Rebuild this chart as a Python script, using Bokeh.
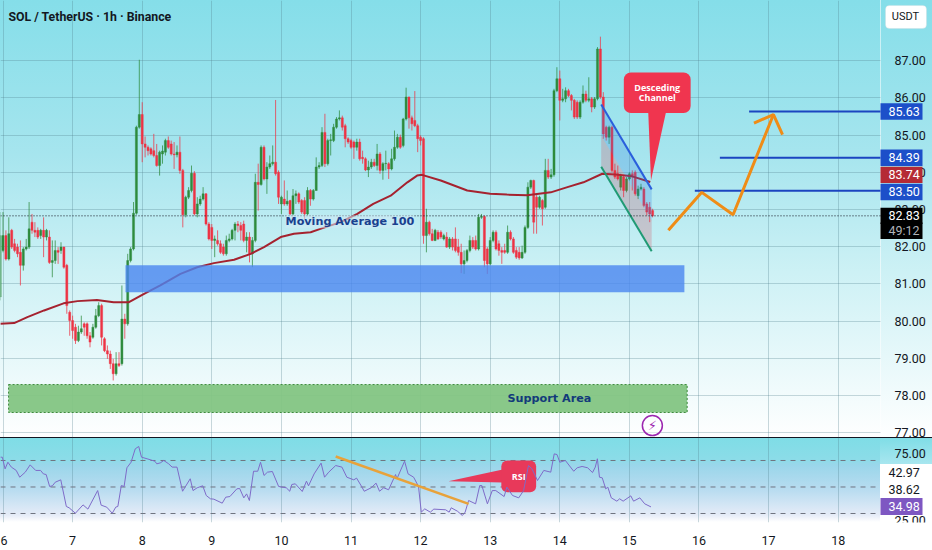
from bokeh.plotting import figure
from bokeh.layouts import column
from bokeh.models import Range1d, FixedTicker, Label, NumeralTickFormatter, BoxAnnotation, LinearAxis
from bokeh.core.properties import value
from bokeh.embed import file_html
from bokeh.resources import INLINE

opens = [80.65,81.90,82.30,81.67,82.44,82.08,81.99,81.85,81.50,81.94,81.99,82.66,82.44,82.44,82.30,82.44,82.26,82.26,81.58,81.63,81.90,81.90,81.99,81.50,
80.24,80.02,79.84,79.48,79.71,79.93,79.93,79.61,79.57,79.84,80.15,80.42,79.53,79.21,79.12,78.86,78.59,78.86,78.86,80.06,79.93,81.63,81.94,82.90,
85.21,85.55,84.76,84.67,84.63,84.58,84.45,84.18,84.49,84.54,84.85,84.76,84.49,84.47,84.54,84.05,82.86,83.33,83.51,83.97,82.88,83.15,83.28,83.42,
82.61,82.52,82.17,82.17,82.08,81.99,81.81,82.17,82.21,82.44,82.61,82.57,82.61,82.17,82.26,81.81,82.17,83.73,83.67,84.67,83.82,84.14,84.23,84.27,
84.00,83.15,83.28,83.15,83.24,82.88,83.37,83.42,83.24,83.24,82.88,83.51,83.28,83.51,84.14,84.18,85.07,84.23,84.85,84.85,85.21,85.43,85.46,85.25,
84.90,84.85,84.81,84.67,84.81,84.40,84.36,84.06,84.14,84.27,84.18,84.49,84.05,84.23,84.23,84.09,84.36,84.67,84.94,84.72,85.43,86.02,85.46,85.39,
85.25,84.94,84.90,82.30,82.66,82.35,82.17,82.39,82.39,82.21,82.26,81.99,82.21,82.21,81.99,81.85,81.54,81.63,81.90,82.17,82.17,81.94,82.79,82.81,
81.94,81.54,82.17,82.39,82.08,81.90,81.90,81.85,82.39,82.21,81.90,81.85,81.70,81.85,82.52,83.60,83.78,83.33,83.06,83.24,83.06,84.05,83.87,83.93,
86.19,86.51,85.93,85.97,86.19,86.06,85.93,85.88,85.48,85.88,86.10,85.93,85.97,85.75,85.97,
87.31,86.02,85.21,84.94,85.21,84.05,83.96,83.60,83.87,83.51,83.82,83.96,84.00,83.37,83.55,83.55,83.15,83.06,82.97]
closes = [82.30,82.30,81.67,82.35,81.99,81.90,81.81,81.50,81.94,81.99,82.48,82.44,82.39,82.26,82.44,82.26,82.44,81.58,81.63,81.90,81.85,81.99,81.45,80.42,
80.02,79.75,79.48,79.71,79.80,79.84,79.61,79.44,79.84,80.15,80.42,79.57,79.21,79.12,78.86,78.59,78.86,78.81,80.06,79.93,81.63,81.94,82.90,85.21,
85.55,84.76,84.67,84.58,84.49,84.45,84.18,84.54,84.57,84.85,84.67,84.49,84.47,84.54,84.05,82.86,83.33,83.51,83.97,82.88,83.15,83.28,83.42,82.61,
82.21,82.17,82.21,82.08,81.85,81.81,82.17,82.21,82.44,82.61,82.57,82.44,82.17,82.26,81.81,82.17,83.73,83.67,84.67,83.82,84.14,84.23,84.27,83.96,
83.33,83.33,83.15,83.22,82.88,83.37,83.42,83.20,82.93,82.88,83.51,83.28,83.51,84.14,84.18,85.07,84.23,84.85,84.87,85.21,85.43,85.46,85.21,84.90,
84.81,84.67,84.67,84.81,84.36,84.36,84.06,84.14,84.27,84.18,84.49,84.05,84.23,84.24,84.09,84.36,84.67,84.94,84.67,85.43,86.02,85.46,85.30,85.25,
84.90,84.85,82.30,82.66,82.35,82.17,82.44,82.21,82.26,82.30,81.99,82.21,81.99,81.90,81.85,81.54,81.63,81.90,82.17,81.99,81.94,82.79,82.81,81.63,
81.54,82.17,82.39,81.94,81.90,81.85,81.85,82.39,82.21,81.85,81.72,81.70,81.85,82.52,83.60,83.78,82.66,83.06,83.33,83.02,84.05,83.87,83.93,86.19,
86.51,85.93,85.97,86.19,86.06,85.93,85.48,85.48,85.88,86.10,85.93,85.97,85.75,85.97,87.31,
86.02,85.03,84.94,85.21,84.05,83.87,83.82,83.91,83.51,83.82,83.96,83.87,83.42,83.55,83.60,83.11,82.93,82.88,82.83]
highs = [82.93,82.93,82.44,82.79,82.48,82.21,82.08,82.17,81.99,82.21,83.20,82.88,82.66,82.52,82.48,82.79,82.48,82.44,82.17,82.17,81.99,82.12,82.00,81.54,
80.29,80.15,79.93,79.88,80.15,79.97,79.97,79.71,79.93,80.33,80.51,80.47,79.57,79.35,79.21,78.99,79.17,79.17,80.96,80.20,81.81,81.99,83.20,85.25,
87.02,85.88,84.96,84.72,84.67,85.03,84.76,84.58,84.72,84.90,84.96,84.85,84.81,84.72,84.96,84.09,83.37,83.60,84.18,84.03,83.33,83.37,83.60,83.44,
82.66,82.61,82.30,82.44,82.17,82.08,82.30,82.35,82.48,82.66,82.69,82.66,82.70,82.39,82.39,82.26,83.96,84.23,84.72,84.72,84.27,84.45,84.72,85.94,
84.05,83.37,83.78,83.51,83.26,83.55,83.51,83.46,83.28,83.33,83.60,83.55,83.55,84.40,84.27,85.21,85.57,84.90,85.03,85.30,85.48,85.66,85.52,85.30,
84.94,84.90,84.85,84.90,84.90,84.58,84.40,84.31,84.36,84.36,84.76,84.54,84.27,84.58,84.27,84.63,85.12,85.03,85.01,85.46,86.27,86.03,85.52,86.18,
85.30,84.99,84.94,83.02,82.70,82.48,82.48,82.45,82.44,82.35,82.39,82.26,82.26,82.52,82.21,82.08,81.90,81.94,82.30,82.26,82.30,82.88,82.88,82.84,
81.99,82.26,82.44,82.44,82.17,81.99,82.08,82.57,82.44,82.26,81.99,81.99,82.03,82.57,83.73,83.80,83.80,83.42,83.37,83.28,84.36,84.36,84.09,86.24,
86.82,86.73,86.24,86.28,86.24,86.10,85.97,85.93,85.93,86.33,86.19,86.55,86.02,86.02,87.36,
87.64,86.15,85.25,85.25,85.25,84.23,84.18,83.96,83.91,83.87,84.00,84.05,84.05,83.64,83.69,83.60,83.20,83.20,83.02]
lows = [80.56,81.85,81.63,81.63,81.94,81.85,81.72,80.96,81.36,81.90,81.94,82.35,82.26,82.21,82.21,81.72,82.17,81.54,81.18,81.54,81.54,81.81,81.41,80.20,
79.61,79.53,79.39,79.44,79.66,79.61,79.53,79.30,79.53,79.80,80.11,79.35,79.17,78.99,78.72,78.41,78.54,78.77,78.81,79.53,79.88,81.58,81.90,82.86,
85.17,84.27,84.40,84.45,84.45,84.40,84.15,83.91,84.23,84.45,84.63,84.45,84.09,84.40,83.96,82.52,82.79,83.28,83.46,82.84,82.79,83.10,83.24,82.57,
82.17,81.94,81.72,82.03,81.81,81.76,81.76,82.12,82.17,82.17,82.39,82.17,82.12,81.85,81.58,81.45,82.12,82.97,83.64,83.78,83.42,84.09,84.18,83.91,
83.15,82.88,83.10,83.10,82.84,82.84,83.15,83.15,82.88,82.75,82.84,83.10,83.24,83.51,84.09,84.14,84.14,84.18,84.45,84.81,85.17,85.39,85.12,84.67,
84.76,84.63,84.36,84.58,84.31,84.23,84.03,83.87,84.09,84.14,84.05,83.96,83.80,84.05,83.82,84.05,84.31,84.63,84.63,84.67,85.39,85.17,85.12,85.21,
84.54,84.72,82.08,81.85,82.30,82.15,82.15,82.18,82.21,82.17,81.97,81.94,81.90,81.85,81.76,81.29,81.27,81.58,81.85,81.94,81.90,81.90,82.75,81.45,
81.27,81.50,82.12,81.90,81.76,81.54,81.81,81.81,82.17,81.81,81.67,81.65,81.67,81.81,82.48,83.55,82.35,82.35,83.02,82.57,83.02,83.82,83.82,83.88,
86.15,85.39,85.88,85.88,86.02,85.66,85.43,85.43,85.43,85.84,85.88,85.88,85.61,85.70,85.93,
85.97,84.90,84.85,84.76,84.00,83.82,83.78,83.51,83.33,83.46,83.78,83.51,83.37,83.28,83.51,83.06,82.84,82.66,82.79]

ma_days = [5.96,6.16,6.35,6.59,6.87,7.07,7.35,7.59,7.81,8.02,8.26,8.55,8.79,9.03,9.32,9.56,9.75,9.99,10.18,10.42,10.56,10.85,11.09,11.32,11.57,11.81,11.95,12.02,12.29,12.67,13.0,13.24,13.53,13.87,14.11,14.34,14.61,14.80,15.04,15.30]
ma_values = [79.93,79.95,80.11,80.29,80.48,80.54,80.57,80.51,80.51,80.73,80.96,81.27,81.45,81.56,81.65,81.81,81.99,82.26,82.35,82.39,82.48,82.66,82.88,83.15,83.37,83.73,83.91,83.93,83.78,83.51,83.42,83.40,83.38,83.46,83.60,83.73,83.96,83.94,83.89,83.74]

rsi_days = [5.96,5.99,6.03,6.07,6.12,6.19,6.24,6.32,6.39,6.47,6.54,6.58,6.62,6.67,6.71,6.75,6.83,6.91,6.95,7.04,7.15,7.22,7.36,7.41,7.49,7.57,7.62,7.65,7.70,7.74,7.78,7.84,7.90,7.95,7.99,8.07,8.18,8.21,8.26,8.31,8.38,8.43,8.50,8.58,8.69,8.73,8.79,8.87,8.92,8.98,9.03,9.15,9.20,9.26,9.36,9.40,9.46,9.50,9.54,9.60,9.66,9.70,9.75,9.80,9.87,9.96,10.07,10.12,10.15,10.20,10.30,10.36,10.39,10.47,10.57,10.62,10.68,10.78,10.87,10.94,11.04,11.08,11.15,11.19,11.29,11.36,11.41,11.47,11.54,11.64,11.66,11.77,11.82,11.90,11.97,12.01,12.06,12.14,12.19,12.36,12.41,12.44,12.53,12.60,12.64,12.69,12.79,12.85,12.88,12.96,13.03,13.08,13.20,13.24,13.32,13.41,13.48,13.55,13.60,13.68,13.77,13.87,13.92,13.96,14.00,14.08,14.20,14.25,14.32,14.40,14.47,14.51,14.54,14.57,14.61,14.66,14.69,14.74,14.82,14.86,14.91,15.02,15.06,15.15,15.22,15.31]
rsi_values = [72.5,72.5,63.7,68.7,65.0,62.5,57.4,61.2,66.7,62.5,62.5,59.9,59.4,50.4,50.9,53.6,55.4,35.3,34.3,30.2,36.5,33.3,47.3,36.3,34.8,30.2,34.8,35.3,51.1,50.4,64.5,68.7,78.8,80.6,72.5,71.3,69.5,67.5,68.2,70.0,67.5,65.0,65.0,46.8,56.2,47.3,49.4,50.9,43.6,41.1,40.8,37.8,42.3,42.8,48.6,48.9,41.8,44.8,39.8,61.9,61.9,68.7,58.7,61.2,61.7,50.4,49.4,46.8,51.9,52.4,46.6,54.4,50.9,59.9,68.0,57.4,61.2,66.2,65.0,57.4,55.4,56.7,50.6,46.8,49.4,52.9,46.8,49.4,47.9,59.4,56.2,69.5,59.9,57.4,50.4,31.0,33.5,31.0,33.3,32.8,31.0,34.3,31.7,28.5,31.0,39.8,37.3,51.1,51.1,37.3,47.3,47.3,42.8,49.9,43.6,41.8,47.3,66.2,63.7,54.9,62.5,61.2,75.0,74.5,68.7,70.0,61.9,64.5,65.5,64.5,60.9,65.0,71.3,57.4,56.9,48.6,49.9,41.8,39.3,41.1,39.3,43.3,39.3,41.8,37.3,34.98]

price_ticks = [77, 78, 79, 80, 81, 82, 83, 84, 85, 86, 87]
day_ticks = [6, 7, 8, 9, 10, 11, 12, 13, 14, 15, 16, 17, 18]
rsi_ticks = [25, 75]
rsi_levels = [70, 50, 30]
level_prices = [85.63, 84.39, 83.50]
level_starts = [16.72, 16.30, 15.94]
last_price = 82.83
ma_last = "83.74"
countdown = "49:12"
rsi_side = ["42.97", "38.62", "34.98"]

arrow_days = [15.56, 16.04, 16.49, 17.07]
arrow_prices = [82.44, 83.46, 82.86, 85.55]
head_days = [16.79, 17.07, 17.20]
head_prices = [85.32, 85.55, 85.01]
channel_days = [14.595, 15.32]
channel_top = [85.82, 83.54]
channel_mid = [84.985, 82.71]
channel_bottom = [84.15, 81.88]

assert len(opens) == len(closes) == len(highs) == len(lows), (len(opens), len(closes), len(highs), len(lows))
assert len(ma_days) == len(ma_values) and len(rsi_days) == len(rsi_values), (len(rsi_days), len(rsi_values))

X0, X_PANE, X1 = 5.964, 18.608, 19.355
FONT = "Roboto"
RED, GREEN = "#ee3344", "#2e8b3d"
INK = "#131722"
GRID = "#4f7f8c"

days = [5 + 23 / 24 + i / 24 for i in range(len(closes))]
up = [c >= o for o, c in zip(opens, closes)]
colors = [GREEN if u else RED for u in up]
body_top = [max(o, c) for o, c in zip(opens, closes)]
body_bot = [min(o, c) for o, c in zip(opens, closes)]


def style_side_axis(axis, ticks):
    axis.ticker = FixedTicker(ticks=ticks)
    axis.formatter = NumeralTickFormatter(format="0.00")
    axis.major_tick_line_color = None
    axis.minor_tick_line_color = None
    axis.axis_line_color = None
    axis.major_label_standoff = 8
    axis.major_label_text_font = FONT
    axis.major_label_text_font_size = "12.5px"
    axis.major_label_text_color = INK


main = figure(width=932, height=439, output_backend="svg", toolbar_location=None,
              x_range=Range1d(X0, X1), y_range=Range1d(76.825, 88.611),
              y_axis_location=None, x_axis_location=None,
              min_border_left=0, min_border_top=0, min_border_bottom=0, min_border_right=0,
              background_fill_alpha=0, border_fill_alpha=0, outline_line_color=None)
main.styles = {"background": "linear-gradient(rgba(255,255,255,.55),rgba(255,255,255,.55)) no-repeat 880px 0/1px 100%, linear-gradient(#85dee9 0%, #a6e5ee 35%, #cdf1f5 62%, #ffffff 100%)"}

ya = LinearAxis(fixed_location=X_PANE)
style_side_axis(ya, price_ticks)
main.add_layout(ya, "right")

main.xgrid.ticker = FixedTicker(ticks=day_ticks)
main.ygrid.ticker = FixedTicker(ticks=price_ticks)
main.ygrid[0].cross_bounds = (X0, X_PANE)
for g in (main.xgrid[0], main.ygrid[0]):
    g.grid_line_color = GRID
    g.grid_line_alpha = 0.3

main.segment(days, highs, days, lows, line_color=colors, line_width=1, line_alpha=0.75)
main.vbar(x=days, top=body_top, bottom=body_bot, width=0.03, fill_color=colors, line_color=colors, line_width=0.4)
main.line(ma_days, ma_values, line_color="#a5222f", line_width=2)

main.quad(left=[7.76], right=[15.79], top=[81.50], bottom=[80.78], fill_color="#4a86f0", fill_alpha=0.8, line_color=None)
main.quad(left=[6.08], right=[15.83], top=[78.30], bottom=[77.55], fill_color="#83c583", fill_alpha=0.95,
          line_color="#3c8a3c", line_dash="2 2", line_width=1)

main.varea(channel_days, channel_mid, channel_top, fill_color="#2f7fe0", fill_alpha=0.25)
main.varea(channel_days, channel_bottom, channel_mid, fill_color="#d8384a", fill_alpha=0.22)
main.line(channel_days, channel_top, line_color="#2a5fdc", line_width=2)
main.line(channel_days, channel_bottom, line_color="#1f9a74", line_width=2)

main.segment(level_starts, level_prices, [X_PANE] * 3, level_prices, line_color="#1b45c0", line_width=2)
main.segment([X0], [last_price], [X_PANE], [last_price], line_color=INK, line_dash="1 2", line_width=1)
main.line(arrow_days, arrow_prices, line_color="#ef8c16", line_width=3)
main.line(head_days, head_prices, line_color="#ef8c16", line_width=3)

CALLOUT = "#f0354f"
main.patch([15.27, 15.53, 15.31], [85.65, 85.65, 83.78], fill_color=CALLOUT, line_color=None)
main.quad(left=[14.92], right=[15.88], top=[86.68], bottom=[85.59], fill_color=CALLOUT, line_color=None, border_radius=7)
main.text([15.40, 15.40], [86.28, 86.01], text=["Desceding", "Channel"], text_color="#ffffff",
          text_font=value("Open Sans"), text_font_style="bold", text_font_size="9px",
          text_align="center", text_baseline="middle")

main.scatter([15.33], [77.2], marker="circle", size=20, fill_color="#ffffff", fill_alpha=0.5,
             line_color="#9c27b0", line_width=1.5)
main.text([15.33], [77.2], text=["⚡"], text_color="#9c27b0", text_font=value("DejaVu Sans"),
          text_font_size="13px", text_align="center", text_baseline="middle")


def tag(pane, text, y, bg=None, fg="#ffffff", half=0.22):
    pane.add_layout(BoxAnnotation(left=880, right=922, left_units="screen", right_units="screen",
                                  top=y + half, bottom=y - half, fill_color=bg, fill_alpha=1, line_color=None,
                                  level="annotation"))
    pane.add_layout(Label(x=888, y=y, x_units="screen", y_units="data", text=text, text_color=fg,
                          text_font=FONT, text_font_size="12.5px", text_align="left", text_baseline="middle"))


main.add_layout(Label(x=285, y=82.67, x_units="screen", y_units="data", text="Moving Average 100",
                      text_color="#1a3f8f", text_font="DejaVu Sans", text_font_style="bold", text_font_size="11.2px",
                      text_baseline="middle", background_fill_color="#cfeaf5", background_fill_alpha=0.55))
main.add_layout(Label(x=507, y=77.93, x_units="screen", y_units="data", text="Support Area",
                      text_color="#123a7a", text_font="DejaVu Sans", text_font_style="bold", text_font_size="11.2px",
                      text_baseline="middle"))
main.add_layout(Label(x=8, y=88.18, x_units="screen", y_units="data", text="SOL / TetherUS · 1h · Binance",
                      text_color=INK, text_font=FONT, text_font_style="bold", text_font_size="12.3px",
                      text_baseline="middle"))
main.add_layout(BoxAnnotation(left=885, right=926, left_units="screen", right_units="screen", top=88.48, bottom=87.86,
                              fill_color="#ffffff", fill_alpha=1, line_color="#c9d3d8", border_radius=4, level="annotation"))
main.add_layout(Label(x=905, y=88.17, x_units="screen", y_units="data", text="USDT", text_color=INK,
                      text_font=FONT, text_font_size="11px", text_align="center", text_baseline="middle"))
tag(main, "85.63", 85.63, "#1c4fc9")
tag(main, "84.39", 84.39, "#1c4fc9")
tag(main, ma_last, 83.93, "#b52a35")
tag(main, "83.50", 83.47, "#1c4fc9")
tag(main, "82.83", 82.83, "#000000")
tag(main, countdown, 82.43, "#000000", fg="#b0b3b8")

rsi = figure(width=932, height=113, output_backend="svg", toolbar_location=None,
             x_range=main.x_range, y_range=Range1d(23.2, 87.36),
             y_axis_location=None, x_axis_location="below",
             min_border_left=0, min_border_top=0, min_border_bottom=28, min_border_right=0,
             background_fill_alpha=0, border_fill_alpha=0, outline_line_color=None,
             margin=(-2, 0, 0, 0))
rsi.styles = {"background": "linear-gradient(#131722,#131722) no-repeat 0 0/100% 1px, "
                            "linear-gradient(#7edde6 0%, #8cdce8 27%, #9ad6ea 33%, #b8dcf0 62%, #e6ecf8 92%, #ffffff 100%) no-repeat 0 0/880px 85px, "
                            "linear-gradient(#7edde6, #a8e6ef) no-repeat 880px 0/52px 27px, #ffffff"}

rya = LinearAxis(fixed_location=X_PANE)
style_side_axis(rya, rsi_ticks)
rsi.add_layout(rya, "right")

xa = rsi.xaxis[0]
xa.ticker = FixedTicker(ticks=day_ticks)
xa.major_tick_line_color = None
xa.minor_tick_line_color = None
xa.axis_line_color = None
xa.major_label_standoff = 7
xa.major_label_text_font = FONT
xa.major_label_text_font_size = "12.5px"
xa.major_label_text_color = INK

rsi.ygrid.visible = False
rsi.xgrid.ticker = FixedTicker(ticks=day_ticks)
rsi.xgrid[0].grid_line_color = GRID
rsi.xgrid[0].grid_line_alpha = 0.3

rsi.segment([X0] * 3, rsi_levels, [X_PANE] * 3, rsi_levels, line_color="#6f7480", line_dash="5 5", line_width=1)

RSI_RED = "#e8395a"
rsi.patch([12.40, 13.18, 13.18], [54.4, 63.2, 53.4], fill_color=RSI_RED, line_color=None)
rsi.quad(left=[13.16], right=[13.66], top=[70], bottom=[46.1], fill_color=RSI_RED, line_color=None, border_radius=6)
rsi.text([13.41], [57.9], text=["RSI"], text_color="#ffffff", text_font=value("Open Sans"),
         text_font_style="bold", text_font_size="9px", text_align="center", text_baseline="middle")
rsi.line(rsi_days, rsi_values, line_color="#7e6bc8", line_width=1)
rsi.line([10.78, 12.69], [73.0, 37.3], line_color="#e8a23a", line_width=2.5)

tag(rsi, rsi_side[0], 60.9, "#ffffff", fg=INK, half=6.4)
tag(rsi, rsi_side[1], 48.1, "#ffffff", fg=INK, half=6.4)
tag(rsi, rsi_side[2], 35.3, "#7e57c2", half=6.4)

page = column(main, rsi, spacing=0)
open("out.html", "w").write(file_html(page, INLINE))
